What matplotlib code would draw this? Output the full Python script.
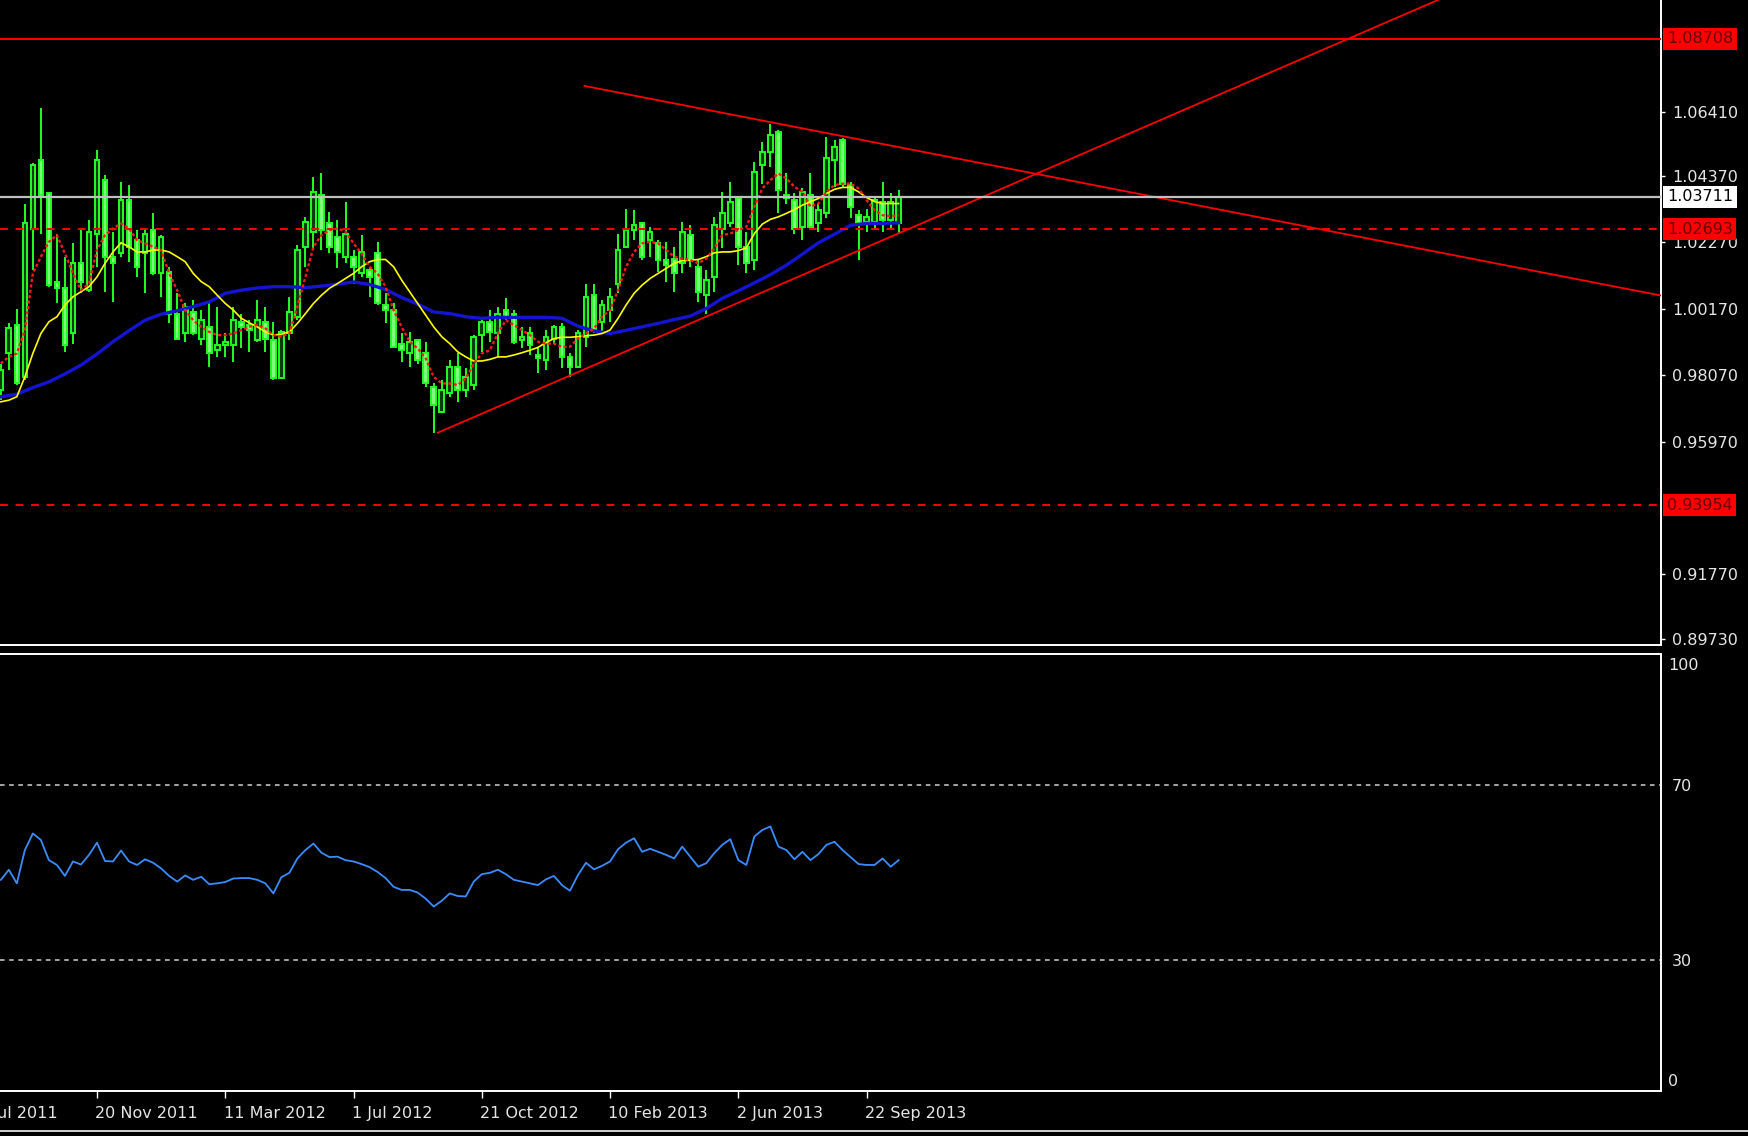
import numpy as np
import matplotlib.pyplot as plt
from matplotlib.lines import Line2D
from matplotlib.transforms import blended_transform_factory

# weekly bars, bar 0 = week of 28 Aug 2011, last bar = week of 20 Oct 2013
opens = [0.9760, 0.9876, 0.9966, 0.9802, 1.0271, 1.0487, 1.0382, 1.0103, 1.0082, 0.9939,
         1.0161, 1.0076, 1.0255, 1.0424, 1.0182, 1.0192, 1.0361, 1.0234, 1.0192, 1.0266,
         1.0129, 1.0134, 1.0002, 0.9939, 1.0008, 0.9923, 0.9960, 0.9886, 0.9902, 0.9902,
         0.9976, 0.9966, 0.9918, 0.9976, 0.9918, 0.9797, 0.9939, 0.9992, 1.0213, 1.0261,
         1.0377, 1.0287, 1.0245, 1.0182, 1.0182, 1.0129, 1.0139, 1.0192, 1.0029, 1.0013,
         0.9907, 0.9876, 0.9918, 0.9876, 0.9771, 0.9692, 0.9750, 0.9834, 0.9760, 0.9776,
         0.9934, 0.9976, 0.9939, 1.0013, 1.0002, 0.9918, 0.9939, 0.9871, 0.9855, 0.9923,
         0.9960, 0.9865, 0.9834, 0.9929, 1.0060, 0.9976, 1.0013, 1.0097, 1.0213, 1.0266,
         1.0287, 1.0234, 1.0224, 1.0171, 1.0176, 1.0161, 1.0250, 1.0150, 1.0060, 1.0118,
         1.0271, 1.0287, 1.0366, 1.0213, 1.0171, 1.0471, 1.0514, 1.0577, 1.0377, 1.0361,
         1.0276, 1.0377, 1.0287, 1.0319, 1.0487, 1.0551, 1.0408, 1.0313, 1.0292, 1.0292,
         1.0356, 1.0298, 1.0287]
highs = [0.9844, 0.9971, 1.0018, 1.0350, 1.0477, 1.0651, 1.0387, 1.0255, 1.0182, 1.0224,
         1.0266, 1.0298, 1.0519, 1.0440, 1.0261, 1.0419, 1.0408, 1.0266, 1.0266, 1.0319,
         1.0250, 1.0150, 1.0066, 1.0034, 1.0045, 1.0013, 1.0034, 1.0024, 0.9939, 1.0024,
         1.0002, 0.9981, 1.0045, 1.0024, 0.9976, 0.9950, 1.0055, 1.0219, 1.0308, 1.0435,
         1.0445, 1.0324, 1.0298, 1.0356, 1.0203, 1.0250, 1.0150, 1.0229, 1.0066, 1.0034,
         0.9939, 0.9944, 0.9923, 0.9913, 0.9781, 0.9792, 0.9855, 0.9876, 0.9829, 0.9934,
         0.9987, 1.0013, 1.0024, 1.0050, 1.0013, 0.9960, 0.9960, 0.9897, 0.9950, 0.9966,
         0.9971, 0.9876, 0.9950, 1.0097, 1.0097, 1.0045, 1.0082, 1.0255, 1.0334, 1.0329,
         1.0292, 1.0276, 1.0234, 1.0229, 1.0213, 1.0292, 1.0282, 1.0171, 1.0139, 1.0308,
         1.0387, 1.0419, 1.0371, 1.0261, 1.0482, 1.0545, 1.0603, 1.0582, 1.0445, 1.0382,
         1.0398, 1.0445, 1.0350, 1.0561, 1.0551, 1.0556, 1.0419, 1.0329, 1.0334, 1.0371,
         1.0419, 1.0382, 1.0392]
lows = [0.9728, 0.9823, 0.9776, 0.9792, 1.0139, 1.0255, 1.0087, 1.0034, 0.9881, 0.9907,
        1.0066, 1.0071, 1.0150, 1.0071, 1.0039, 1.0182, 1.0166, 1.0118, 1.0066, 1.0124,
        1.0055, 0.9971, 0.9918, 0.9913, 0.9934, 0.9902, 0.9834, 0.9865, 0.9865, 0.9850,
        0.9892, 0.9881, 0.9913, 0.9881, 0.9792, 0.9794, 0.9918, 0.9981, 1.0150, 1.0203,
        1.0203, 1.0192, 1.0145, 1.0161, 1.0097, 1.0118, 1.0055, 1.0029, 0.9971, 0.9892,
        0.9850, 0.9834, 0.9844, 0.9771, 0.9623, 0.9686, 0.9739, 0.9723, 0.9739, 0.9760,
        0.9881, 0.9913, 0.9865, 0.9981, 0.9907, 0.9892, 0.9871, 0.9813, 0.9823, 0.9907,
        0.9829, 0.9802, 0.9829, 0.9897, 0.9939, 0.9939, 0.9976, 1.0066, 1.0208, 1.0234,
        1.0171, 1.0182, 1.0134, 1.0103, 1.0071, 1.0129, 1.0150, 1.0039, 1.0002, 1.0071,
        1.0208, 1.0276, 1.0155, 1.0129, 1.0139, 1.0413, 1.0466, 1.0319, 1.0350, 1.0255,
        1.0234, 1.0266, 1.0261, 1.0303, 1.0403, 1.0403, 1.0303, 1.0171, 1.0261, 1.0266,
        1.0261, 1.0271, 1.0255]
closes = [0.9823, 0.9955, 0.9781, 1.0287, 1.0471, 1.0377, 1.0092, 1.0082, 0.9902, 1.0161,
          1.0103, 1.0261, 1.0487, 1.0182, 1.0161, 1.0361, 1.0213, 1.0150, 1.0255, 1.0129,
          1.0245, 1.0002, 0.9923, 1.0024, 0.9939, 0.9981, 0.9876, 0.9902, 0.9913, 0.9981,
          0.9960, 0.9950, 0.9981, 0.9923, 0.9797, 0.9944, 1.0008, 1.0203, 1.0292, 1.0387,
          1.0266, 1.0213, 1.0197, 1.0255, 1.0150, 1.0197, 1.0118, 1.0034, 1.0013, 0.9897,
          0.9886, 0.9913, 0.9855, 0.9781, 0.9713, 0.9760, 0.9834, 0.9760, 0.9802, 0.9929,
          0.9976, 0.9944, 1.0002, 0.9987, 0.9913, 0.9929, 0.9902, 0.9860, 0.9929, 0.9960,
          0.9865, 0.9834, 0.9939, 1.0055, 0.9950, 1.0029, 1.0055, 1.0203, 1.0266, 1.0282,
          1.0182, 1.0261, 1.0171, 1.0155, 1.0129, 1.0261, 1.0171, 1.0071, 1.0108, 1.0282,
          1.0319, 1.0356, 1.0213, 1.0161, 1.0450, 1.0514, 1.0566, 1.0392, 1.0366, 1.0271,
          1.0387, 1.0276, 1.0329, 1.0493, 1.0529, 1.0413, 1.0340, 1.0287, 1.0308, 1.0361,
          1.0298, 1.0356, 1.0371]

# moving averages
ma_fast = [0.9844, 0.9865, 0.9876, 0.9950, 1.0129, 1.0182, 1.0229, 1.0250, 1.0192, 1.0129,
           1.0076, 1.0097, 1.0203, 1.0250, 1.0271, 1.0287, 1.0271, 1.0234, 1.0224, 1.0213,
           1.0203, 1.0129, 1.0076, 1.0013, 0.9981, 0.9960, 0.9944, 0.9934, 0.9934, 0.9939,
           0.9950, 0.9960, 0.9966, 0.9955, 0.9934, 0.9929, 0.9939, 1.0024, 1.0118, 1.0213,
           1.0250, 1.0266, 1.0271, 1.0261, 1.0224, 1.0192, 1.0150, 1.0129, 1.0087, 1.0013,
           0.9960, 0.9913, 0.9892, 0.9860, 0.9802, 0.9781, 0.9781, 0.9776, 0.9797, 0.9844,
           0.9876, 0.9886, 0.9939, 0.9981, 0.9966, 0.9950, 0.9934, 0.9913, 0.9907, 0.9907,
           0.9897, 0.9897, 0.9923, 0.9939, 0.9955, 0.9992, 1.0013, 1.0076, 1.0150, 1.0197,
           1.0224, 1.0229, 1.0224, 1.0203, 1.0182, 1.0176, 1.0171, 1.0161, 1.0176, 1.0208,
           1.0250, 1.0255, 1.0266, 1.0276, 1.0340, 1.0398, 1.0424, 1.0445, 1.0429, 1.0403,
           1.0387, 1.0340, 1.0350, 1.0387, 1.0408, 1.0413, 1.0413, 1.0398, 1.0361, 1.0329,
           1.0313, 1.0310, 1.0313]
ma_mid = [0.9723, 0.9728, 0.9739, 0.9802, 0.9876, 0.9939, 0.9976, 0.9992, 1.0029, 1.0055,
          1.0071, 1.0087, 1.0118, 1.0161, 1.0197, 1.0226, 1.0213, 1.0197, 1.0197, 1.0203,
          1.0203, 1.0197, 1.0182, 1.0166, 1.0129, 1.0103, 1.0087, 1.0060, 1.0034, 1.0013,
          0.9987, 0.9973, 0.9960, 0.9944, 0.9934, 0.9937, 0.9944, 0.9971, 1.0002, 1.0034,
          1.0060, 1.0082, 1.0097, 1.0113, 1.0129, 1.0150, 1.0166, 1.0173, 1.0173, 1.0150,
          1.0108, 1.0071, 1.0034, 0.9997, 0.9960, 0.9929, 0.9907, 0.9881, 0.9865, 0.9852,
          0.9852, 0.9857, 0.9865, 0.9865, 0.9871, 0.9878, 0.9886, 0.9895, 0.9910, 0.9923,
          0.9927, 0.9927, 0.9929, 0.9932, 0.9934, 0.9939, 0.9950, 0.9987, 1.0029, 1.0066,
          1.0092, 1.0113, 1.0129, 1.0145, 1.0161, 1.0169, 1.0171, 1.0173, 1.0182, 1.0194,
          1.0197, 1.0197, 1.0201, 1.0210, 1.0255, 1.0285, 1.0300, 1.0308, 1.0319, 1.0331,
          1.0345, 1.0356, 1.0366, 1.0382, 1.0395, 1.0401, 1.0401, 1.0387, 1.0369, 1.0356,
          1.0350, 1.0350, 1.0350]
# slow average, read at every second bar
ma_slow = [0.9739, 0.9747, 0.9768, 0.9786, 0.9811, 0.9839, 0.9874, 0.9913, 0.9948, 0.9981,
           1.0000, 1.0011, 1.0024, 1.0039, 1.0066, 1.0076, 1.0083, 1.0087, 1.0087, 1.0084,
           1.0089, 1.0095, 1.0102, 1.0094, 1.0078, 1.0053, 1.0032, 1.0007, 1.0002, 0.9992,
           0.9987, 0.9990, 0.9990, 0.9990, 0.9990, 0.9987, 0.9962, 0.9947, 0.9939, 0.9949,
           0.9960, 0.9971, 0.9983, 0.9994, 1.0018, 1.0050, 1.0074, 1.0099, 1.0125, 1.0155,
           1.0190, 1.0226, 1.0253, 1.0281, 1.0287, 1.0287, 1.0289]

rsi = [48.3, 50.6, 47.5, 55.1, 58.9, 57.4, 52.8, 51.7, 49.2, 52.5,
       51.8, 54.0, 56.8, 52.6, 52.5, 55.0, 52.5, 51.7, 53.0, 52.2,
       50.9, 49.2, 47.9, 49.3, 48.3, 49.0, 47.3, 47.5, 47.8, 48.6,
       48.7, 48.7, 48.3, 47.5, 45.2, 48.9, 49.9, 53.2, 55.1, 56.6,
       54.5, 53.5, 53.6, 52.8, 52.5, 51.9, 51.2, 50.1, 48.7, 46.7,
       46.0, 46.0, 45.4, 44.0, 42.2, 43.5, 45.2, 44.6, 44.5, 47.9,
       49.6, 49.9, 50.6, 49.6, 48.3, 47.9, 47.5, 47.1, 48.4, 49.2,
       47.1, 45.8, 49.4, 52.2, 50.7, 51.5, 52.5, 55.3, 56.8, 57.8,
       54.7, 55.4, 54.7, 54.0, 53.2, 55.9, 53.6, 51.3, 52.1, 54.4,
       56.3, 57.6, 52.8, 51.7, 58.2, 59.7, 60.5, 55.9, 55.1, 53.0,
       54.7, 52.8, 54.2, 56.3, 57.0, 55.1, 53.5, 51.9, 51.7, 51.7,
       53.2, 51.3, 52.8]

# drawn objects: trend lines (bar index, price) and horizontal levels
support_x = [54.5, 179.3]
support_y = [0.9625, 1.0994]
resist_x = [72.8, 207.1]
resist_y = [1.0722, 1.0059]
level_solid = 1.08708
level_bid = 1.03711
levels_dashed = [1.02693, 0.93954]

price_ticks = [1.06410, 1.04370, 1.02270, 1.00170, 0.98070, 0.95970, 0.91770, 0.89730]
date_pos = [-4, 12, 28, 44, 60, 76, 92, 108]
date_labels = ['31 Jul 2011', '20 Nov 2011', '11 Mar 2012', '1 Jul 2012',
               '21 Oct 2012', '10 Feb 2013', '2 Jun 2013', '22 Sep 2013']

plt.rcParams['font.family'] = ['DejaVu Sans']
FS = 11.5
TXT = '#e6e6e6'
LIME = '#22ff22'

W, H = 1748, 1136
fig = plt.figure(figsize=(W / 100, H / 100), dpi=100, facecolor='black')
right = 1661 / W
ax = fig.add_axes([0, 1 - 644.5 / H, right, 644.5 / H], facecolor='black')
ax_rsi = fig.add_axes([0, 1 - 1091.2 / H, right, (1091.2 - 653.6) / H], facecolor='black')

x = np.arange(len(closes))
o = np.array(opens)
c = np.array(closes)
up = c >= o
body_lo = np.minimum(o, c)
body_h = np.abs(c - o)

ax.vlines(x, lows, highs, color=LIME, lw=1.4, zorder=2)
ax.bar(x[up], body_h[up], bottom=body_lo[up], width=0.58, color='#0a3a0a',
       edgecolor=LIME, lw=1.4, zorder=2.2)
ax.bar(x[~up], body_h[~up], bottom=body_lo[~up], width=0.58, color='#7dff7d',
       edgecolor=LIME, lw=1.4, zorder=2.2)

ax.plot(x[::2], ma_slow, color='#1414d2', lw=2.4, zorder=3)
ax.plot(x, ma_mid, color='#ffff00', lw=1.2, zorder=3.1)
ax.plot(x, ma_fast, color='#ff1a1a', lw=1.7, ls=(0, (1.3, 1.0)), zorder=3.2)

ax.plot(support_x, support_y, color='#ff0000', lw=1.3, zorder=4)
ax.plot(resist_x, resist_y, color='#ff0000', lw=1.3, zorder=4)

ax.axhline(level_solid, color='#ff0000', lw=1.4, zorder=4)
ax.axhline(level_bid, color='#c0c0c0', lw=1.6, zorder=4)
for lv in levels_dashed:
    ax.axhline(lv, color='#ff0000', lw=1.4, ls=(0, (4, 4)), zorder=4)

ax.set_xlim(-0.1, 207.1)
ax.set_ylim(0.89554, 1.09937)
ax.set_xticks([])
ax.yaxis.tick_right()
ax.set_yticks(price_ticks)
ax.set_yticklabels([f'{p:.5f}' for p in price_ticks])
ax.tick_params(axis='y', colors='white', labelcolor=TXT, labelsize=FS,
               length=3, width=1, pad=5)

# price boxes on the scale
tr = blended_transform_factory(ax.transAxes, ax.transData)
boxes = [(level_solid, '#ff0000', '#6a0000'), (level_bid, 'white', 'black')] + \
        [(lv, '#ff0000', '#6a0000') for lv in levels_dashed]
for val, fc, tc in boxes:
    ax.text(1.0036, val, f'{val:.5f}', transform=tr, ha='left', va='center',
            fontsize=FS, color=tc, clip_on=False, zorder=6,
            bbox=dict(boxstyle='square,pad=0.22', fc=fc, ec='none'))

# RSI panel
ax_rsi.plot(x, rsi, color='#3b8cff', lw=1.3)
for lv in (70, 30):
    ax_rsi.axhline(lv, color='#d0d0d0', lw=1.1, ls=(0, (3, 3)))
ax_rsi.set_xlim(-0.1, 207.1)
ax_rsi.set_ylim(0, 100)
ax_rsi.yaxis.tick_right()
ax_rsi.set_yticks([70, 30])
ax_rsi.set_yticklabels(['70', '30'])
ax_rsi.tick_params(axis='y', colors='white', labelcolor=TXT, labelsize=FS,
                   length=0, pad=8)
ax_rsi.text(1.0045, 1 - 12 / 437.6, '100', transform=ax_rsi.transAxes, ha='left',
            va='center', fontsize=FS, color=TXT)
ax_rsi.text(1.0045, 10 / 437.6, '0', transform=ax_rsi.transAxes, ha='left',
            va='center', fontsize=FS, color=TXT)

ax_rsi.set_xticks([p for p in date_pos if p >= 0])
ax_rsi.set_xticklabels([])
ax_rsi.tick_params(axis='x', colors='white', length=5, width=1)
trx = blended_transform_factory(ax_rsi.transData, ax_rsi.transAxes)
for p, lab in zip(date_pos, date_labels):
    ax_rsi.text(p - 0.2, -0.05, lab, transform=trx, ha='left', va='center',
                fontsize=FS, color=TXT, clip_on=False)

for a in (ax, ax_rsi):
    for s in a.spines.values():
        s.set_color('white')
        s.set_linewidth(1.4)
    a.spines['left'].set_visible(False)
ax.spines['top'].set_visible(False)

fig.add_artist(Line2D([0, 1], [1 - 1131 / H] * 2, color='#d0d0d0', lw=1.4,
                      transform=fig.transFigure))

fig.savefig('out.png', dpi=100, facecolor='black')
